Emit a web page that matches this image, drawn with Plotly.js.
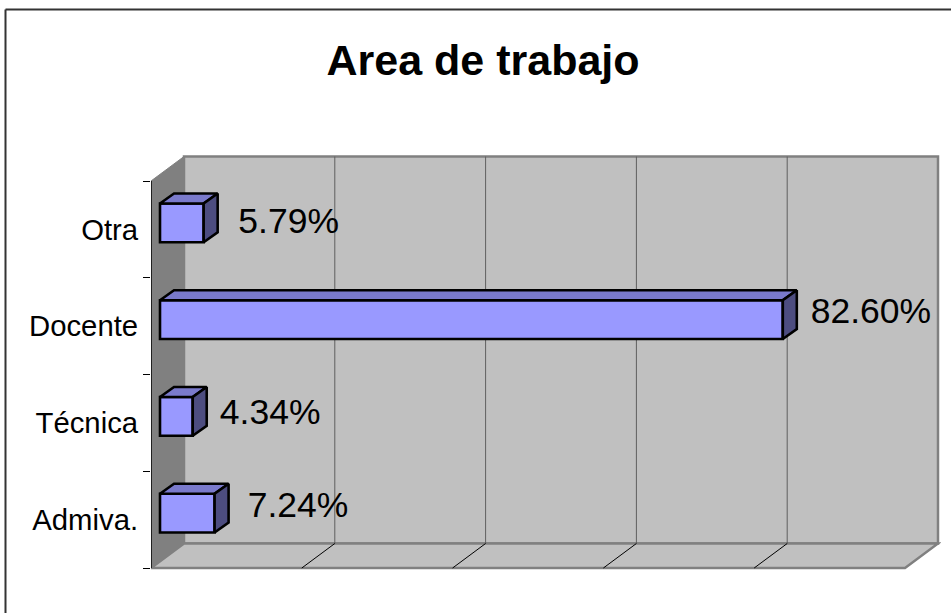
<!DOCTYPE html>
<html><head><meta charset="utf-8">
<script src="https://cdn.plot.ly/plotly-3.0.1.min.js"></script>
<style>html,body{margin:0;padding:0;background:#fff}#c{width:951px;height:613px}</style>
</head><body><div id="c"></div>
<script>
var categories = ["Admiva.", "Técnica", "Docente", "Otra"];
var values = [7.24, 4.34, 82.60, 5.79];
var valueLabels = ["7.24%", "4.34%", "82.60%", "5.79%"];
var gridValues = [20, 40, 60, 80];
var labelNudgeX = [4.4, 3.6, 3.7, 4.6];
var labelNudgeY = [0.05, 0.01, 0.06, -0.015];

var W = 951, H = 613, L = 151, R = 941, T = 152, B = 572;
var pxX = 7.54, pxY = 96.75;
var xMax = (R - L) / pxX, yMin = -(B - 568) / pxY, yMax = (568 - T) / pxY;
var wallDx = 33 / pxX, wallDy = 24.5 / pxY;
var barDx0 = 9 / pxX, barDy0 = 6.5 / pxY, barDx = 14 / pxX, barDy = 10 / pxY, barH = 0.4;
var wallTop = 4, wallRight = 100;

var gridGrey = "#5f5f5f", wallGrey = "#808080", wallFill = "#c0c0c0";
var font = "Liberation Sans, Arial, sans-serif";
var barStroke = 2.6;

function poly(pts, fill, line, w) {
  var p = pts.map(function (q, i) { return (i ? "L" : "M") + q[0] + "," + q[1]; }).join("") + "Z";
  return {type: "path", path: p, xref: "x", yref: "y", layer: "below", fillcolor: fill,
          line: {color: line, width: w}};
}
function seg(x0, y0, x1, y1, color, w, layer) {
  return {type: "line", xref: "x", yref: "y", x0: x0, y0: y0, x1: x1, y1: y1, layer: layer || "below",
          line: {color: color, width: w}};
}
function frameX(px) { return (px - L) / (R - L); }
function frameY(px) { return (B - px) / (B - T); }
function frameLine(x0, y0, x1, y1) {
  return {type: "line", xref: "paper", yref: "paper", x0: frameX(x0), y0: frameY(y0), x1: frameX(x1), y1: frameY(y1),
          layer: "below", line: {color: "#333", width: 2}};
}

var shapes = [
  // outer frame: only the top and left edges are visible
  frameLine(5.5, 9.5, W, 9.5),
  frameLine(5.5, 9.5, 5.5, H),
  // back wall
  poly([[wallDx, wallDy], [wallDx + wallRight, wallDy], [wallDx + wallRight, wallDy + wallTop], [wallDx, wallDy + wallTop]], wallFill, wallGrey, 2.5),
  // left wall
  poly([[0, 0], [wallDx, wallDy], [wallDx, wallDy + wallTop], [0, wallTop]], wallGrey, wallGrey, 1),
  // floor
  poly([[0, 0], [wallRight, 0], [wallRight + wallDx, wallDy], [wallDx, wallDy]], wallFill, wallGrey, 2.5)
];
gridValues.forEach(function (g) {
  shapes.push(seg(g + wallDx, wallDy, g + wallDx, wallDy + wallTop, gridGrey, 1));
  shapes.push(seg(g, 0, g + wallDx, wallDy, "#000", 1));
});
shapes.push(seg(0, 0, 0, wallTop, "#000", 1.5));

var yPos = categories.map(function (c, i) { return i + 0.5 + barDy0; });
var topX = [], topY = [], sideX = [], sideY = [];
values.forEach(function (v, i) {
  var x0 = barDx0, x1 = barDx0 + v, yb = yPos[i] - barH / 2, yt = yPos[i] + barH / 2;
  topX.push(x0, x1, x1 + barDx, x0 + barDx, x0, null);
  topY.push(yt, yt, yt + barDy, yt + barDy, yt, null);
  sideX.push(x1, x1 + barDx, x1 + barDx, x1, x1, null);
  sideY.push(yb, yb + barDy, yt + barDy, yt, yb, null);
});

var data = [
  {type: "bar", orientation: "h", x: values, y: yPos, base: barDx0, width: barH, hoverinfo: "skip",
   marker: {color: "#9999ff", line: {color: "#000", width: barStroke}}},
  {type: "scatter", mode: "lines", x: topX, y: topY, fill: "toself", fillcolor: "#7a7acc",
   line: {color: "#000", width: barStroke}, hoverinfo: "skip"},
  {type: "scatter", mode: "lines", x: sideX, y: sideY, fill: "toself", fillcolor: "#4d4d80",
   line: {color: "#000", width: barStroke}, hoverinfo: "skip"},
  {type: "scatter", mode: "text", cliponaxis: false, hoverinfo: "skip",
   x: values.map(function (v, i) { return barDx0 + v + labelNudgeX[i]; }),
   y: yPos.map(function (y, i) { return y + labelNudgeY[i]; }),
   text: valueLabels, textposition: "middle right",
   textfont: {family: font, size: 35.5, color: "#000"}},
  {type: "scatter", mode: "none", x: [0], y: [0.5], yaxis: "y2", hoverinfo: "skip"}
];

var layout = {
  width: W, height: H, showlegend: false, paper_bgcolor: "#fff", plot_bgcolor: "rgba(0,0,0,0)",
  margin: {l: L, r: W - R, t: T, b: H - B, pad: 0},
  title: {text: "<b>Area de trabajo</b>", xref: "container", yref: "container", x: 483 / W, xanchor: "center",
          y: 1 - 60 / H, yanchor: "middle", font: {family: font, size: 43, color: "#000"}},
  xaxis: {range: [0, xMax], showgrid: false, zeroline: false, showline: false, showticklabels: false, ticks: "", fixedrange: true},
  yaxis: {range: [yMin, yMax], showgrid: false, zeroline: false, showline: false, showticklabels: false,
          tickmode: "array", tickvals: [0, 1, 2, 3, 4], ticks: "outside", ticklen: 7, tickwidth: 1, tickcolor: "#000", fixedrange: true},
  yaxis2: {overlaying: "y", side: "left", anchor: "x", range: [yMin, yMax], showgrid: false, zeroline: false, showline: false,
           tickmode: "array", tickvals: categories.map(function (c, i) { return i + 0.5; }), ticktext: categories,
           ticks: "outside", ticklen: 6, tickcolor: "rgba(0,0,0,0)", tickfont: {family: font, size: 29.3, color: "#000"}, fixedrange: true},
  shapes: shapes
};
Plotly.newPlot("c", data, layout, {displayModeBar: false, staticPlot: true});
</script></body></html>
